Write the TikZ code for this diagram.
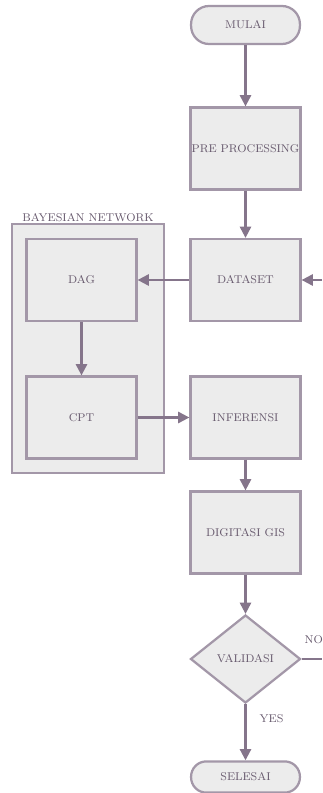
\documentclass[tikz,border=0pt]{standalone}
\usepackage{tikz}
\usetikzlibrary{arrows.meta, shapes.geometric}
\definecolor{flowline}{HTML}{85758B}
\definecolor{boxline}{HTML}{A397A8}
\definecolor{boxfill}{HTML}{ECECEC}
\definecolor{flowtext}{HTML}{66586C}

\begin{document}
\begin{tikzpicture}
				[x=0.025cm, y=-0.025cm,
				every node/.style={font=\footnotesize, text=flowtext},
				process/.style={rectangle, draw=boxline, fill=boxfill, line width=1.6pt,
					minimum width=2.75cm, minimum height=2.05cm, inner sep=0pt},
				terminal/.style={rectangle, rounded corners=0.45cm, draw=boxline, fill=boxfill,
					line width=1.6pt, minimum width=2.72cm, minimum height=0.95cm, inner sep=0pt},
				decision/.style={diamond, aspect=1.25, draw=boxline, fill=boxfill, line width=1.6pt,
					minimum width=2.75cm, minimum height=2.2cm, inner sep=0pt},
				group/.style={rectangle, draw=boxline, fill=boxfill, line width=1.6pt,
					minimum width=3.8cm, minimum height=6.22cm, inner sep=0pt},
				flow/.style={draw=flowline, line width=1.5pt, -{Triangle[length=8pt, width=8pt]}}]
				\useasboundingbox (0,0) rectangle (322,793);

				% bayesian network group first, so it sits behind
				\node[group] (bn) at (88,348.5) {};
				\node[anchor=south, inner sep=1pt] (bnlabel) at (bn.north) {BAYESIAN NETWORK};

				% main column
				\node[terminal] (mulai) at (245.5,25) {MULAI};
				\node[process] (prepro) at (245.5,148.5) {PRE PROCESSING};
				\node[process] (dataset) at (245.5,280) {DATASET};
				\node[process] (inferensi) at (245.5,417.5) {INFERENSI};
				\node[process] (digitasi) at (245.5,532.5) {DIGITASI GIS};
				\node[decision] (validasi) at (245.5,659) {VALIDASI};
				\node[terminal, minimum height=0.78cm, rounded corners=0.38cm] (selesai) at (245.5,777) {SELESAI};

				% inside the group
				\node[process] (dag) at (81.5,280) {DAG};
				\node[process] (cpt) at (81.5,417.5) {CPT};

				% loose ends on the right
				\coordinate (back) at (322,280);
				\coordinate (noexit) at (322,659);

				\draw[flow] (mulai) -- (prepro);
				\draw[flow] (prepro) -- (dataset);
				\draw[flow] (back) -- (dataset);
				\draw[flow] (dataset) -- (dag);
				\draw[flow] (dag) -- (cpt);
				\draw[flow] (cpt) -- (inferensi);
				\draw[flow] (inferensi) -- (digitasi);
				\draw[flow] (digitasi) -- (validasi);
				\draw[flow] (validasi) -- node[right=6pt, pos=0.25] {YES} (selesai);
				\draw[draw=flowline, line width=1.5pt] (validasi.east) -- node[above=7pt, pos=0.6] {NO} (noexit);
				\end{tikzpicture}
\end{document}
